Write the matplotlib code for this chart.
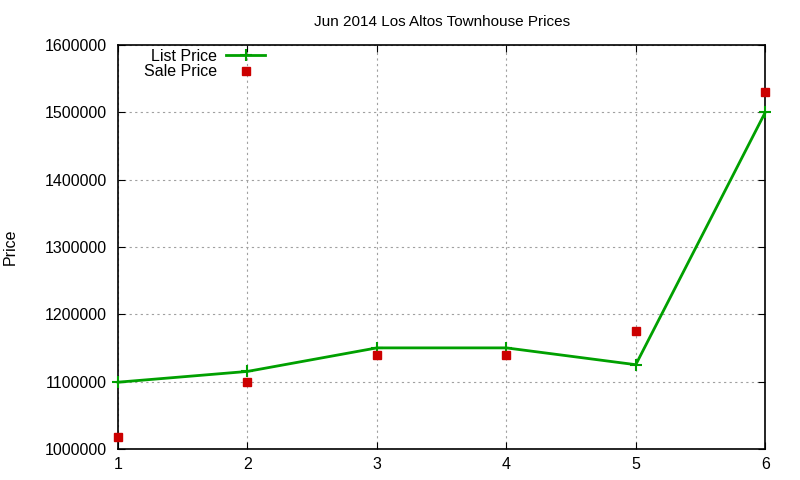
import matplotlib
matplotlib.use("Agg")
import matplotlib.pyplot as plt

plt.rcParams['font.family'] = ['Liberation Sans', 'DejaVu Sans']

homes = [1, 2, 3, 4, 5, 6]
list_price = [1099000, 1115000, 1150000, 1150000, 1125000, 1500000]
sale_price = [1017000, 1100000, 1140000, 1140000, 1175000, 1530000]
y_ticks = [1000000, 1100000, 1200000, 1300000, 1400000, 1500000, 1600000]

fig = plt.figure(figsize=(8, 4.8), dpi=100)
ax = fig.add_axes([0.1475, 0.065, 0.809, 0.841])

ax.plot(homes, list_price, color='#00a000', lw=2, marker='+', ms=8, mew=1.5,
        label='List Price', clip_on=False, zorder=3)
ax.plot(homes, sale_price, ls='none', color='#cc0000', marker='s', ms=6,
        label='Sale Price', clip_on=False, zorder=4)

ax.set_xlim(1, 6)
ax.set_ylim(1000000, 1600000)
ax.set_xticks(homes)
ax.set_yticks(y_ticks)
ax.set_yticklabels([str(v) for v in y_ticks])
ax.tick_params(direction='in', top=True, right=True, labelsize=11.5, length=5)
ax.tick_params(axis='x', pad=6)
ax.tick_params(axis='y', pad=8)
ax.grid(True, color='#a0a0a0', ls=(0, (2, 3)), lw=0.8)
for s in ax.spines.values():
    s.set_linewidth(1.2)

ax.set_title('Jun 2014 Los Altos Townhouse Prices', fontsize=11, pad=14)
ax.set_ylabel('Price', fontsize=11.5, labelpad=19)

leg = ax.legend(loc='upper left', bbox_to_anchor=(0.025, 1.015), frameon=False,
                markerfirst=False, fontsize=11.5, handlelength=2.4,
                labelspacing=0.05, borderaxespad=0.2, handletextpad=0.6)

fig.savefig('out.png')
